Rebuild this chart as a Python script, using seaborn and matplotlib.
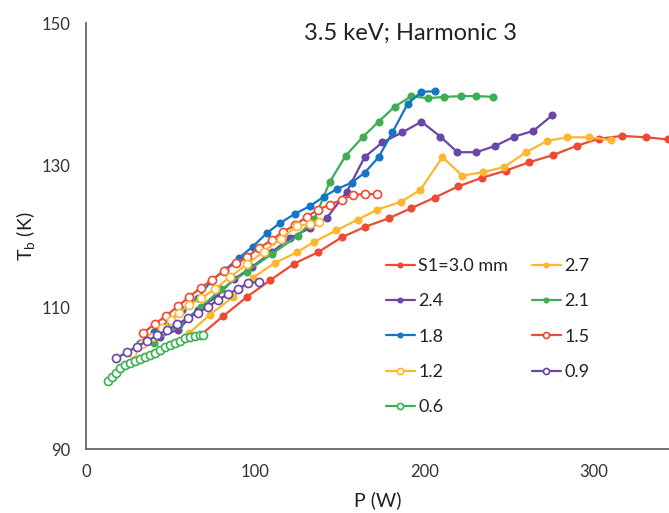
import matplotlib
matplotlib.use("Agg")
import matplotlib.pyplot as plt
import seaborn as sns
import pandas as pd

# ---- data (P in W, Tb in K) ----
p_30 = [68, 81, 95, 109, 123, 137, 151, 165, 179, 192, 206, 220, 234, 248, 262, 276, 290, 303, 317, 331, 344]
t_30 = [106.1, 108.7, 111.4, 113.8, 116.1, 117.7, 119.8, 121.3, 122.5, 123.9, 125.4, 127.0, 128.2, 129.2, 130.4, 131.4, 132.7, 133.7, 134.1, 133.9, 133.6]

p_27 = [61, 73, 87, 98.5, 111.5, 124.5, 135, 148, 160.5, 172, 186, 197.6, 210.6, 222.4, 234.8, 247, 260, 272.6, 284.4, 297.3, 310.3]
t_27 = [106.3, 108.9, 111.4, 114.1, 116.2, 117.7, 119.2, 120.8, 122.3, 123.7, 124.8, 126.5, 131.1, 128.5, 129.0, 129.7, 131.8, 133.4, 133.9, 133.9, 133.5]

p_24 = [43.5, 54.3, 66, 76.7, 87.3, 97.9, 109.7, 120.4, 132.2, 142.2, 154, 164.6, 175.2, 187, 198.2, 209.4, 219.5, 230.7, 241.9, 253.1, 264.3, 275.5]
t_24 = [105.8, 106.8, 109.6, 111.4, 113.9, 115.6, 117.7, 119.7, 121.1, 122.5, 126.2, 131.1, 133.2, 134.6, 136.1, 134.0, 131.8, 131.8, 132.7, 134.0, 134.8, 137.0]

p_21 = [40, 55, 68, 80, 95, 110, 125, 135, 144, 153.4, 163.4, 172.9, 182.3, 192.3, 201.8, 211.8, 221.8, 230.7, 240.7]
t_21 = [105.0, 107.5, 110.0, 112.5, 115.0, 117.5, 120.0, 122.4, 127.6, 131.3, 133.9, 136.1, 138.2, 139.7, 139.4, 139.6, 139.7, 139.7, 139.6]

p_18 = [32, 40, 49, 57, 66, 74, 82, 90.3, 98.5, 106.8, 114.5, 123.3, 132.2, 140.4, 148.1, 156.9, 164.6, 172.9, 181.1, 190, 198.2, 206.5]
t_18 = [105.0, 106.5, 108.0, 109.6, 111.2, 113.7, 115.2, 116.9, 118.5, 120.4, 121.8, 123.1, 124.2, 125.5, 126.6, 127.5, 128.9, 131.1, 134.6, 138.6, 140.3, 140.4]

p_15 = [33.5, 40.5, 47.5, 54.3, 60.8, 67.8, 74.3, 81.4, 88.5, 95, 102, 109.7, 116.2, 123.3, 130.4, 136.9, 144, 151, 157.5, 164.6, 171.7]
t_15 = [106.3, 107.6, 108.8, 110.1, 111.4, 112.7, 113.8, 115.1, 116.2, 117.0, 118.3, 119.4, 120.6, 121.5, 122.7, 123.7, 124.4, 125.1, 125.8, 125.9, 125.9]

p_12 = [27, 33, 39, 45, 50, 55, 61, 68, 76, 85, 95, 105, 115, 124.5, 132.2, 137.5]
t_12 = [103.5, 104.8, 105.8, 107.0, 108.1, 109.2, 110.3, 111.2, 112.5, 114.2, 116.0, 117.8, 119.6, 121.4, 121.7, 122.0]

p_09 = [18, 24, 30, 36, 42, 48, 54, 60, 66, 72, 78, 84, 90, 96, 102]
t_09 = [102.8, 103.6, 104.4, 105.2, 106.0, 106.8, 107.6, 108.4, 109.2, 110.0, 111.0, 111.8, 112.6, 113.4, 113.5]

p_06 = [12.9, 15.3, 17.7, 20.1, 23.0, 26.0, 28.9, 31.9, 34.8, 37.8, 40.7, 43.7, 46.6, 49.6, 52.5, 55.5, 58.4, 61.4, 64.3, 67.3, 69.0]
t_06 = [99.6, 100.1, 100.7, 101.4, 101.8, 102.1, 102.4, 102.7, 103.0, 103.2, 103.5, 103.9, 104.4, 104.6, 104.9, 105.2, 105.6, 105.8, 105.9, 106.1, 106.1]

labels = ["S1=3.0 mm", "2.7", "2.4", "2.1", "1.8", "1.5", "1.2", "0.9", "0.6"]

x_ticks = [0, 100, 200, 300]
y_ticks = [90, 110, 130, 150]

RED = "#EE4A33"
YEL = "#FDB72F"
PUR = "#6A46A8"
GRN = "#3DAE52"
BLU = "#1575C4"

series = [
    (p_30, t_30, RED, True),
    (p_27, t_27, YEL, True),
    (p_24, t_24, PUR, True),
    (p_21, t_21, GRN, True),
    (p_18, t_18, BLU, True),
    (p_15, t_15, RED, False),
    (p_12, t_12, YEL, False),
    (p_09, t_09, PUR, False),
    (p_06, t_06, GRN, False),
]

sns.set_style("white")
plt.rcParams["font.family"] = ["Lato", "DejaVu Sans"]

fig = plt.figure(figsize=(6.69, 5.13), dpi=100)
ax = fig.add_axes([86 / 669, 1 - 449 / 513, 1 - 86 / 669, (449 - 23) / 513])

handles = {}
for (px, ty, col, filled), lab in zip(series, labels):
    df = pd.DataFrame({"P": px, "T": ty})
    sns.lineplot(data=df, x="P", y="T", ax=ax, sort=False, color=col, lw=1.6,
                 marker="o", markersize=5.8,
                 markerfacecolor=col if filled else "white",
                 markeredgecolor=col, markeredgewidth=1.2 if not filled else 0.0,
                 label=lab, legend=False)
    handles[lab] = ax.lines[-1]

ax.set_xlim(0, 344.5)
ax.set_ylim(90, 150)
ax.set_xticks(range(0, 350, 50))
ax.set_xticklabels([str(v) if v in x_ticks else "" for v in range(0, 350, 50)])
ax.set_yticks(y_ticks)
ax.set_yticklabels([str(v) for v in y_ticks])
ax.tick_params(axis="both", direction="out", length=5, width=1, color="#595959",
               labelsize=12, labelcolor="#333333", pad=6)
for s in ["top", "right"]:
    ax.spines[s].set_visible(False)
for s in ["left", "bottom"]:
    ax.spines[s].set_color("#595959")
    ax.spines[s].set_linewidth(1.2)

ax.set_xlabel("P (W)", fontsize=14, color="#222222", labelpad=8)
ax.set_ylabel("T$_\\mathregular{b}$ (K)", fontsize=14, color="#222222", labelpad=3)
fig.text(410 / 669, 1 - 33 / 513, "3.5 keV; Harmonic 3", fontsize=17, color="#222222",
         ha="center", va="center")

order = ["S1=3.0 mm", "2.4", "1.8", "1.2", "0.6", "2.7", "2.1", "1.5", "0.9"]
leg = ax.legend([handles[k] for k in order], order, ncol=2, frameon=False,
                loc="upper left", bbox_to_anchor=(386 / 669, 1 - 258 / 513),
                bbox_transform=fig.transFigure, borderaxespad=0, borderpad=0,
                fontsize=13, handlelength=1.6, handletextpad=0.2, columnspacing=1.3,
                labelspacing=1.07, markerscale=0.75)
for t in leg.get_texts():
    t.set_color("#222222")

fig.savefig("out.png", dpi=100)
